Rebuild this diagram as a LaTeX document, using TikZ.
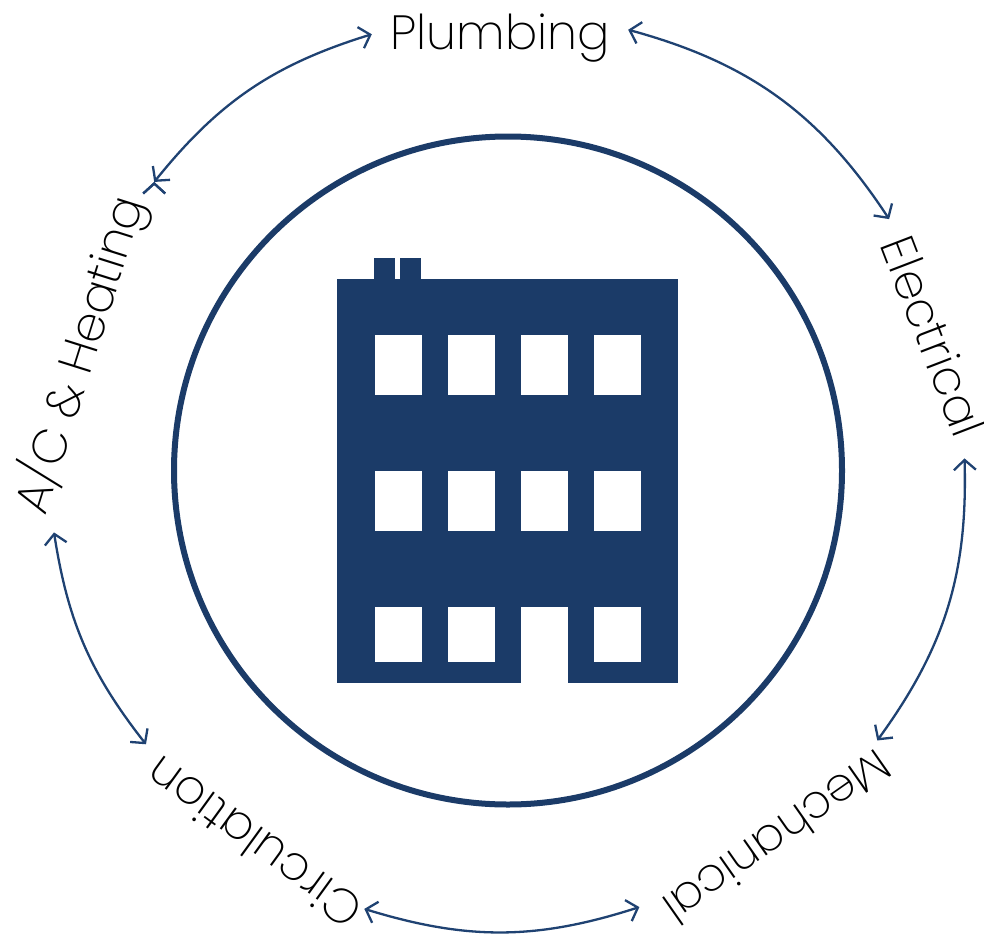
\documentclass[tikz,border=0pt]{standalone}
\usepackage{fontspec}
\setmainfont{Poppins}[UprightFont=* ExtraLight]
\usetikzlibrary{arrows.meta}
\definecolor{navy}{HTML}{1B3B68}
\definecolor{linkblue}{HTML}{1F4272}

\begin{document}
\begin{tikzpicture}[x=1pt,y=-1pt,
    >={Straight Barb[length=10pt,width=22pt,line width=2.3pt]},
    trade/.style={text=black,font=\fontsize{48}{50}\selectfont,text depth=0pt,inner sep=0pt,minimum height=80pt},
    link/.style={<->,draw=linkblue,line width=2.3pt},
    ring/.style={circle,draw=navy,line width=6pt,minimum size=668pt,inner sep=0pt}]
  \useasboundingbox (0,0) rectangle (984,934);

  \node[ring] (hub) at (508,470.5) {};

  % building
  \fill[navy] (337,279) rectangle (678,683);
  \fill[navy] (374,258) rectangle (395,279);
  \fill[navy] (400,258) rectangle (421,279);
  \foreach \wx in {375,448,521,594}
    \foreach \wy/\wh in {335/60,471/60,607/55}
      \fill[white] (\wx,\wy) rectangle ++(47,\wh);
  \fill[white] (521,607) rectangle (568,683);

  \node[trade,minimum width=256pt]            (plumbing)   at (500,32)  {Plumbing};
  \node[trade,minimum width=250pt,rotate=-69] (electrical) at (934,336) {Electrical};
  \node[trade,minimum width=290pt,rotate=215,font=\fontsize{46.5}{50}\selectfont] (mechanical) at (771.5,842.6) {Mechanical\kern16pt};
  \node[trade,minimum width=273pt,rotate=144] (circulation) at (246.7,838.2) {Circulation\kern16pt};
  \node[trade,minimum width=364pt,rotate=72.5] (hvac)      at (75,348)  {A/C \& Heating\kern10pt};

  \path[link] (plumbing.1.8) edge [bend left=20.7] (electrical.180)
        (electrical.353.3) edge [bend left=18.8] (mechanical.189.2)
        (mechanical.351.4) edge [bend left=17.5] (circulation.185.4)
        (circulation.353.8) edge [bend left=14.6] (hvac.191.2)
        (hvac.352.3) edge [bend left=17] (plumbing.181.5)
        ;

\end{tikzpicture}
\end{document}
